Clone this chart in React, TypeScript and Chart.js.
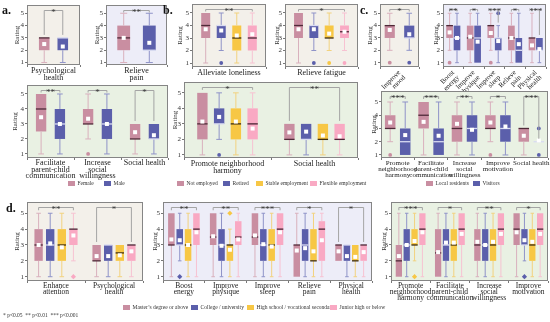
import React, { useEffect, useRef } from "react";
import { Chart, registerables } from "chart.js";
Chart.register(...registerables);

const W = 550;
const H = 322;
const FONT = "'Liberation Serif', 'Times New Roman', serif";

// ---- colours ----
const MAUVE = "#c98ea1";
const BLUE = "#5b5fab";
const YELLOW = "#f7c745";
const PINK = "#f9a9c3";
const BEIGE = "#f3f0ea";
const LAV = "#ededf8";
const GREEN = "#e9f1e3";

// ---- data: each box = [min, q1, median, q3, max, mean] ----
// a. gender
const aPsychFemale = [[1, 2, 3, 3, 3, 2.5]];
const aPsychMale = [[1, 2, 3, 3, 3, 2.3]];
const aPainFemale = [[1, 2, 3, 4, 5, 3.0]];
const aPainMale = [[1, 2, 2, 4, 5, 2.6]];
const aSocialLabels = [["Facilitate", "parent-child", "communication"], ["Increase", "social", "willingness"], "Social health"];
const aSocialFemale = [[1, 2.5, 4, 5, 5, 3.45], [2, 3, 3, 4, 5, 3.35], [1, 2, 2, 3, 3, 2.45]];
const aSocialFemaleOut = [[], [1], []];
const aSocialMale = [[1, 2, 3, 4, 5, 3.0], [1, 2, 3, 4, 5, 3.0], [1, 2, 2, 3, 3, 2.25]];
const aSocialSig = ["**", "*", "*"];

// b. employment
const bLonelyNot = [[1, 3, 4, 5, 5, 3.7]];
const bLonelyRetired = [[2, 3, 4, 4, 5, 3.6]];
const bLonelyRetiredOut = [[1]];
const bLonelyStable = [[1, 2, 3, 4, 5, 3.2]];
const bLonelyFlex = [[1, 2, 3, 4, 5, 3.3]];
const bFatigueNot = [[1, 3, 4, 5, 5, 3.7]];
const bFatigueRetired = [[2, 3, 4, 4, 5, 3.7]];
const bFatigueStable = [[2, 3, 3, 4, 5, 3.35]];
const bFatigueFlex = [[2, 3, 3.5, 4, 5, 3.5]];
const bFatigueOut = [[1]];
const bSocialLabels = [["Promote neighborhood", "harmony"], "Social health"];
const bSocialNot = [[1, 2, 3, 5, 5, 3.15], [1, 2, 2, 3, 3, 2.45]];
const bSocialRetired = [[2, 3, 3, 4, 5, 3.45], [1, 2, 2, 3, 3, 2.5]];
const bSocialRetiredOut = [[1], []];
const bSocialStable = [[1, 2, 3, 4, 5, 3.15], [1, 2, 2, 3, 3, 2.25]];
const bSocialFlex = [[1, 2, 3, 4, 5, 2.7], [1, 2, 2, 3, 3, 2.2]];
const bSocialSig = ["*", "**"];

// c. residents vs visitors
const cMoodLocal = [[2, 3, 4, 4, 5, 3.65]];
const cMoodVisitor = [[2, 3, 3, 4, 5, 3.3]];
const cMoodOut = [[1]];
const cPhysLabels = [["Boost", "energy"], ["Improve", "physique"], ["Improve", "sleep"], ["Relieve", "pain"], ["Physical", "health"]];
const cPhysLocal = [[2, 3, 4, 4, 5, 3.45], [1, 2, 3, 4, 5, 3.1], [2, 3, 4, 4, 5, 3.4], [1, 2, 3, 4, 5, 3.0], [1, 2, 3, 3, 5, 2.4]];
const cPhysLocalOut = [[1], [], [1], [], []];
const cPhysVisitor = [[1, 2, 3, 4, 5, 3.0], [1, 1, 3, 4, 5, 2.7], [1, 2, 3, 3, 4, 2.75], [1, 1, 2, 3, 5, 2.5], [1, 2, 2, 3, 3, 2.1]];
const cPhysVisitorOut = [[], [], [5], [], []];
const cPhysSig = ["**", "*", "***", "*", "***"];
const cSocialLabels = [["Promote", "neighborhood", "harmony"], ["Facilitate", "parent-child", "communication"], ["Increase", "social", "willingness"], ["Improve", "motivation"], "Social health"];
const cSocialLocal = [[2, 3, 3, 4, 5, 3.45], [1, 3, 4, 5, 5, 3.5], [1, 2, 3, 4, 5, 3.35], [2, 3, 3, 4, 5, 3.45], [1, 2, 3, 3, 3, 2.45]];
const cSocialLocalOut = [[1], [], [], [1], []];
const cSocialVisitor = [[1, 1, 2, 3, 5, 2.5], [1, 1, 2, 3, 5, 2.45], [1, 2, 3, 4, 5, 2.9], [1, 2, 3, 4, 5, 3.15], [2, 2, 2, 2, 2, 2.1]];
const cSocialVisitorOut = [[], [], [], [], [1, 3]];
const cSocialSig = ["***", "***", "**", "*", "***"];

// d. education
const dPsyLabels = [["Enhance", "attention"], ["Psychological", "health"]];
const dPsyMaster = [[1, 2, 3, 4, 5, 3.0], [1, 2, 2, 3, 3, 2.3]];
const dPsyCollege = [[1, 2, 3, 4, 5, 3.1], [1, 2, 3, 3, 3, 2.3]];
const dPsyHigh = [[1, 2, 3, 4, 5, 2.85], [1, 2, 2.5, 3, 3, 2.35]];
const dPsyJunior = [[2, 3, 4, 4, 5, 3.6], [1, 2, 3, 3, 3, 2.6]];
const dPsyJuniorOut = [[1], []];
const dPsySig = ["**", "*"];
const dPhysLabels = [["Boost", "energy"], ["Improve", "physique"], ["Improve", "sleep"], ["Relieve", "pain"], ["Physical", "health"]];
const dPhysMaster = [[1, 3, 3, 5, 5, 3.35], [1, 3, 3.5, 5, 5, 3.55], [1, 3, 3.5, 5, 5, 3.6], [1, 1, 3, 3, 5, 2.65], [2, 2, 3, 3, 3, 2.6]];
const dPhysCollege = [[2, 3, 3, 4, 5, 3.3], [1, 2, 3, 4, 5, 2.95], [1, 2, 3, 4, 5, 3.05], [1, 2, 3, 4, 5, 2.8], [1, 2, 3, 3, 3, 2.3]];
const dPhysCollegeOut = [[1], [], [], [], []];
const dPhysHigh = [[1, 2, 3, 4, 5, 3.0], [1, 2, 3, 3, 4, 2.7], [1, 2, 3, 4, 5, 2.9], [1, 2, 2, 4, 5, 2.6], [1, 2, 2, 3, 3, 2.25]];
const dPhysHighOut = [[], [5], [], [], []];
const dPhysJunior = [[1, 3, 4, 5, 5, 3.8], [1, 3, 3.5, 4.5, 5, 3.35], [1, 3, 4, 5, 5, 3.8], [1, 2, 4, 4.5, 5, 3.3], [1, 2, 3, 3, 3, 2.55]];
const dPhysSig = ["**", "**", "***", "*", "*"];
const dSocLabels = [["Promote", "neighborhood", "harmony"], ["Facilitate", "parent-child", "communication"], ["Increase", "social", "willingness"], ["Improve", "motivation"]];
const dSocMaster = [[1, 1, 2, 3, 5, 2.3], [1, 1, 2.5, 4, 5, 2.55], [1, 2, 3, 4, 5, 3.2], [1, 3, 4, 5, 5, 3.8]];
const dSocCollege = [[1, 2, 3, 4, 5, 3.0], [1, 2, 3, 4, 5, 3.15], [1, 2, 3, 4, 5, 3.0], [2, 3, 3, 4, 5, 3.3]];
const dSocCollegeOut = [[], [], [], [1]];
const dSocHigh = [[2, 3, 3, 4, 5, 3.25], [1, 2, 3, 4, 5, 3.15], [1, 2, 3, 4, 5, 3.2], [1, 2, 3, 4, 5, 3.2]];
const dSocHighOut = [[1], [], [], []];
const dSocJunior = [[1, 3, 4, 5, 5, 3.8], [1, 3, 4, 5, 5, 3.7], [1, 3, 4, 5, 5, 3.7], [1, 3, 4, 5, 5, 3.7]];
const dSocSig = ["***", "*", "**", "*"];

type Style = { color: string; whisker: string; median: string };
type Series = { stats: number[][]; out?: number[][]; style: Style };
const S_MAUVE: Style = { color: MAUVE, whisker: "#d9b0bd", median: "#4f2a38" };
const S_BLUE: Style = { color: BLUE, whisker: "#8f93c8", median: "#d9dbf2" };
const S_YELLOW: Style = { color: YELLOW, whisker: "#f2d27f", median: "#3d2c12" };
const S_PINK: Style = { color: PINK, whisker: "#f7c2d2", median: "#4a2434" };

type Spec = {
  frame: [number, number, number, number];
  yr: [number, number];
  bg: string;
  labels: (string | string[])[];
  series: Series[];
  sig: string[];
  cat: number;
  bar: number;
  titleDist: number;
  rot?: number;
  xFont?: number;
  lh?: number;
  diamond?: boolean;
};

const PANELS: Spec[] = [
  { frame: [27, 5, 80, 65], yr: [0.8, 5.67], bg: BEIGE, labels: [["Psychological", "health"]], lh: 0.9,
    series: [{ stats: aPsychFemale, style: S_MAUVE }, { stats: aPsychMale, style: S_BLUE }],
    sig: ["*"], cat: 0.7, bar: 0.57, titleDist: 9.5 },
  { frame: [106, 5, 167, 65], yr: [0.8, 5.67], bg: LAV, labels: [["Relieve", "pain"]], lh: 0.9,
    series: [{ stats: aPainFemale, style: S_MAUVE }, { stats: aPainMale, style: S_BLUE }],
    sig: ["**"], cat: 0.84, bar: 0.5, titleDist: 8.5 },
  { frame: [192, 4, 266, 67], yr: [0.68, 5.72], bg: BEIGE, labels: ["Alleviate loneliness"],
    series: [{ stats: bLonelyNot, style: S_MAUVE }, { stats: bLonelyRetired, out: bLonelyRetiredOut, style: S_BLUE },
      { stats: bLonelyStable, style: S_YELLOW }, { stats: bLonelyFlex, style: S_PINK }],
    sig: ["**"], cat: 0.84, bar: 0.58, titleDist: 12 },
  { frame: [285, 4, 358, 67], yr: [0.68, 5.72], bg: BEIGE, labels: ["Relieve fatigue"],
    series: [{ stats: bFatigueNot, style: S_MAUVE }, { stats: bFatigueRetired, out: bFatigueOut, style: S_BLUE },
      { stats: bFatigueStable, out: bFatigueOut, style: S_YELLOW }, { stats: bFatigueFlex, out: bFatigueOut, style: S_PINK }],
    sig: ["*"], cat: 0.84, bar: 0.58, titleDist: 8 },
  { frame: [380, 4, 419, 67], yr: [0.65, 5.75], bg: BEIGE, labels: [["Improve", "mood"]], rot: 45, xFont: 7,
    series: [{ stats: cMoodLocal, out: cMoodOut, style: S_MAUVE }, { stats: cMoodVisitor, out: cMoodOut, style: S_BLUE }],
    sig: ["*"], cat: 1.0, bar: 0.52, titleDist: 9.5 },
  { frame: [443, 4, 546, 67], yr: [0.65, 5.75], bg: LAV, labels: cPhysLabels, rot: 45, xFont: 7,
    series: [{ stats: cPhysLocal, out: cPhysLocalOut, style: S_MAUVE }, { stats: cPhysVisitor, out: cPhysVisitorOut, style: S_BLUE }],
    sig: cPhysSig, cat: 0.72, bar: 0.9, titleDist: 7 },
  { frame: [27, 85, 168, 158], yr: [0.73, 5.6], bg: GREEN, labels: aSocialLabels, lh: 0.82,
    series: [{ stats: aSocialFemale, out: aSocialFemaleOut, style: S_MAUVE }, { stats: aSocialMale, style: S_BLUE }],
    sig: aSocialSig, cat: 0.8, bar: 0.55, titleDist: 12 },
  { frame: [184, 82, 358, 158], yr: [0.8, 5.7], bg: GREEN, labels: bSocialLabels, lh: 0.9,
    series: [{ stats: bSocialNot, style: S_MAUVE }, { stats: bSocialRetired, out: bSocialRetiredOut, style: S_BLUE },
      { stats: bSocialStable, style: S_YELLOW }, { stats: bSocialFlex, style: S_PINK }],
    sig: bSocialSig, cat: 0.77, bar: 0.62, titleDist: 9 },
  { frame: [381, 91, 548, 158], yr: [0.77, 5.83], bg: GREEN, labels: cSocialLabels, xFont: 7, lh: 0.85,
    series: [{ stats: cSocialLocal, out: cSocialLocalOut, style: S_MAUVE }, { stats: cSocialVisitor, out: cSocialVisitorOut, style: S_BLUE }],
    sig: cSocialSig, cat: 0.9, bar: 0.7, titleDist: 7 },
  { frame: [27, 202, 143, 281], yr: [0.73, 5.71], bg: BEIGE, labels: dPsyLabels, xFont: 7.5, lh: 0.8, diamond: true,
    series: [{ stats: dPsyMaster, style: S_MAUVE }, { stats: dPsyCollege, style: S_BLUE },
      { stats: dPsyHigh, style: S_YELLOW }, { stats: dPsyJunior, out: dPsyJuniorOut, style: S_PINK }],
    sig: dPsySig, cat: 0.8, bar: 0.72, titleDist: 9.5 },
  { frame: [163, 202, 372, 281], yr: [0.73, 5.71], bg: LAV, labels: dPhysLabels, xFont: 7.5, lh: 0.8, diamond: true,
    series: [{ stats: dPhysMaster, style: S_MAUVE }, { stats: dPhysCollege, out: dPhysCollegeOut, style: S_BLUE },
      { stats: dPhysHigh, out: dPhysHighOut, style: S_YELLOW }, { stats: dPhysJunior, style: S_PINK }],
    sig: dPhysSig, cat: 0.8, bar: 0.78, titleDist: 8 },
  { frame: [391, 202, 548, 281], yr: [0.73, 5.71], bg: GREEN, labels: dSocLabels, xFont: 7.5, lh: 0.8, diamond: true,
    series: [{ stats: dSocMaster, style: S_MAUVE }, { stats: dSocCollege, out: dSocCollegeOut, style: S_BLUE },
      { stats: dSocHigh, out: dSocHighOut, style: S_YELLOW }, { stats: dSocJunior, style: S_PINK }],
    sig: dSocSig, cat: 0.8, bar: 0.8, titleDist: 6.5 },
];

function BoxPanel({ spec }: { spec: Spec }) {
  const ref = useRef<HTMLCanvasElement>(null);
  useEffect(() => {
    if (!ref.current) return;
    const [L, T, R, B] = spec.frame;
    const titleSize = 7;
    const titleLH = titleSize * 1.2;
    const yW = spec.titleDist + titleLH / 2;
    const xH = Math.min(34, H - B);
    const plugin: any = {
      id: "boxplot",
      beforeDraw(chart: any) {
        const { ctx, chartArea: a } = chart;
        ctx.save();
        ctx.fillStyle = spec.bg;
        ctx.fillRect(a.left, a.top, a.right - a.left, a.bottom - a.top);
        ctx.restore();
      },
      afterDatasetsDraw(chart: any) {
        const { ctx, chartArea: a } = chart;
        const ys = chart.scales.y;
        const py = (v: number) => ys.getPixelForValue(v);
        const metas = spec.series.map((_, i) => chart.getDatasetMeta(i));
        ctx.save();
        spec.labels.forEach((_, j) => {
          spec.series.forEach((s, i) => {
            const el: any = metas[i].data[j];
            const x = el.x;
            const w = el.width;
            const [mn, q1, md, q3, mx, mean] = s.stats[j];
            ctx.strokeStyle = s.style.whisker;
            ctx.lineWidth = 1;
            const cap = w * 0.55;
            ctx.beginPath();
            if (mn < q1) {
              ctx.moveTo(x, py(mn)); ctx.lineTo(x, py(q1));
              ctx.moveTo(x - cap / 2, py(mn)); ctx.lineTo(x + cap / 2, py(mn));
            }
            if (mx > q3) {
              ctx.moveTo(x, py(q3)); ctx.lineTo(x, py(mx));
              ctx.moveTo(x - cap / 2, py(mx)); ctx.lineTo(x + cap / 2, py(mx));
            }
            ctx.stroke();
            ctx.strokeStyle = s.style.median;
            ctx.lineWidth = 1.3;
            ctx.beginPath();
            ctx.moveTo(x - w / 2, py(md)); ctx.lineTo(x + w / 2, py(md));
            ctx.stroke();
            ctx.fillStyle = "#ffffff";
            ctx.fillRect(x - 2, py(mean) - 2, 4, 4);
            const outs = s.out ? s.out[j] : [];
            ctx.fillStyle = s.style.color;
            outs.forEach((o) => {
              const oy = py(o);
              ctx.beginPath();
              if (spec.diamond) {
                ctx.moveTo(x, oy - 2.6); ctx.lineTo(x + 2.6, oy); ctx.lineTo(x, oy + 2.6); ctx.lineTo(x - 2.6, oy);
                ctx.closePath();
              } else {
                ctx.arc(x, oy, 1.9, 0, Math.PI * 2);
              }
              ctx.fill();
            });
          });
          const n = spec.series.length;
          const e1: any = metas[0].data[j];
          const e2: any = metas[n - 1].data[j];
          const by = a.top + 5.5;
          const leg1 = Math.max(by + 2, py(spec.series[0].stats[j][4]) - 3);
          const leg2 = Math.max(by + 2, py(spec.series[n - 1].stats[j][4]) - 3);
          ctx.strokeStyle = "#a4a4a4";
          ctx.lineWidth = 1;
          ctx.beginPath();
          ctx.moveTo(e1.x, leg1); ctx.lineTo(e1.x, by); ctx.lineTo(e2.x, by); ctx.lineTo(e2.x, leg2);
          ctx.stroke();
          ctx.fillStyle = "#333";
          ctx.font = `9px ${FONT}`;
          ctx.textAlign = "center";
          ctx.textBaseline = "alphabetic";
          ctx.fillText(spec.sig[j], (e1.x + e2.x) / 2, by + 4);
        });
        ctx.restore();
      },
      afterDraw(chart: any) {
        const { ctx, chartArea: a } = chart;
        ctx.save();
        ctx.strokeStyle = "#858585";
        ctx.lineWidth = 1;
        ctx.strokeRect(Math.round(a.left) + 0.5, Math.round(a.top) + 0.5, Math.round(a.right - a.left) - 1, Math.round(a.bottom - a.top) - 1);
        ctx.restore();
      },
    };
    const rot = spec.rot ?? 0;
    const chart = new Chart(ref.current, {
      type: "bar",
      data: {
        labels: spec.labels as any,
        datasets: spec.series.map((s) => ({
          data: s.stats.map((v) => [v[1], v[3]]) as any,
          backgroundColor: s.style.color,
          borderWidth: 0,
          borderSkipped: false,
          categoryPercentage: spec.cat,
          barPercentage: spec.bar,
        })),
      },
      options: {
        animation: false,
        responsive: false,
        devicePixelRatio: 1,
        events: [],
        layout: { padding: { left: L - yW, top: T, right: W - R, bottom: H - B - xH } },
        plugins: { legend: { display: false }, tooltip: { enabled: false } },
        scales: {
          x: {
            grid: { display: true, offset: true, drawOnChartArea: false, tickLength: 2, color: "#777" },
            border: { display: false },
            ticks: {
              autoSkip: false,
              maxRotation: rot,
              minRotation: rot,
              padding: 0,
              color: "#222",
              font: { family: FONT, size: spec.xFont ?? 8, lineHeight: spec.lh ?? 1 },
            },
            afterFit: (s: any) => { s.height = xH; s.paddingLeft = 0; s.paddingRight = 0; },
          },
          y: {
            min: spec.yr[0],
            max: spec.yr[1],
            grid: { display: true, drawOnChartArea: false, tickLength: 2, color: "#777" },
            border: { display: false },
            ticks: { padding: 1, color: "#333", font: { family: FONT, size: 7 } },
            title: { display: true, text: "Rating", padding: 0, color: "#333", font: { family: FONT, size: titleSize, lineHeight: 1.2 } },
            afterBuildTicks: (s: any) => { s.ticks = [1, 2, 3, 4, 5].map((v) => ({ value: v })); },
            afterFit: (s: any) => { s.width = yW; s.paddingTop = 0; s.paddingBottom = 0; },
          },
        },
      } as any,
      plugins: [plugin],
    });
    return () => chart.destroy();
  }, [spec]);
  return <canvas ref={ref} width={W} height={H} style={{ position: "absolute", left: 0, top: 0, width: W, height: H }} />;
}

type LegendItem = { x: number; color: string; text: string };
const legendGender: LegendItem[] = [{ x: 68, color: MAUVE, text: "Female" }, { x: 104, color: BLUE, text: "Male" }];
const legendJob: LegendItem[] = [
  { x: 177, color: MAUVE, text: "Not employed" }, { x: 223, color: BLUE, text: "Retired" },
  { x: 256, color: YELLOW, text: "Stable employment" }, { x: 310, color: PINK, text: "Flexible employment" }];
const legendPlace: LegendItem[] = [{ x: 426, color: MAUVE, text: "Local residents" }, { x: 473, color: BLUE, text: "Visitors" }];
const legendEdu: LegendItem[] = [
  { x: 123, color: MAUVE, text: "Master’s degree or above" }, { x: 191, color: BLUE, text: "College / university" },
  { x: 247, color: YELLOW, text: "High school / vocational secondary" }, { x: 330, color: PINK, text: "Junior high or below" }];

function Legend({ items, y }: { items: LegendItem[]; y: number }) {
  return (
    <>
      {items.map((it, i) => (
        <div key={i} style={{ position: "absolute", left: it.x, top: y, height: 7, display: "flex", alignItems: "center", whiteSpace: "nowrap" }}>
          <span style={{ display: "inline-block", width: 7, height: 5, background: it.color, marginRight: 2.5 }} />
          <span style={{ fontFamily: FONT, fontSize: 5.5, lineHeight: "7px", color: "#333", whiteSpace: "pre" }}>{it.text}</span>
        </div>
      ))}
    </>
  );
}

const letterStyle = (x: number, y: number): React.CSSProperties => ({
  position: "absolute", left: x, top: y, fontFamily: FONT, fontWeight: "bold", fontSize: 12, color: "#111", lineHeight: "12px",
});

export default function App() {
  return (
    <div style={{ position: "absolute", left: 0, top: 0, width: W, height: H, background: "#fff", overflow: "hidden" }}>
      {PANELS.map((p, i) => (
        <BoxPanel key={i} spec={p} />
      ))}
      <div style={letterStyle(2, 4)}>a.</div>
      <div style={letterStyle(163, 4)}>b.</div>
      <div style={letterStyle(360, 4)}>c.</div>
      <div style={letterStyle(6, 202)}>d.</div>
      <Legend items={legendGender} y={180} />
      <Legend items={legendJob} y={180} />
      <Legend items={legendPlace} y={180} />
      <Legend items={legendEdu} y={304} />
      <div style={{ position: "absolute", left: 3, top: 312, fontFamily: FONT, fontSize: 5.5, lineHeight: "7px", color: "#333", whiteSpace: "pre" }}>
        {"* p<0.05  ** p<0.01  *** p<0.001"}
      </div>
    </div>
  );
}
